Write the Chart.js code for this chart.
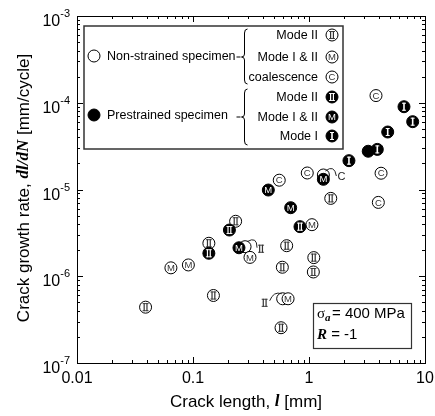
<!DOCTYPE html>
<html>
<head>
<meta charset="utf-8">
<script src="https://cdn.jsdelivr.net/npm/chart.js@4/dist/chart.umd.min.js"></script>
<style>
  html, body { margin: 0; padding: 0; background: #fff; }
  canvas { display: block; }
</style>
</head>
<body>
<canvas id="crackChart" width="435" height="416"></canvas>
<script>
// crack length l [mm] , crack growth rate dl/dN [mm/cycle]
const openModeII = [[0.039, 4.4e-7], [0.137, 2.4e-6], [0.15, 6.0e-7], [0.233, 4.3e-6], [0.642, 2.25e-6],
  [0.589, 1.27e-6], [1.1, 1.64e-6], [1.09, 1.12e-6], [0.574, 2.55e-7], [1.54, 7.9e-6]];
const openModeIINoted = [[0.281, 2.19e-6], [0.593, 5.5e-7]];   // hidden under other marks, labelled with an arrow
const openModeMixed = [[0.0645, 1.25e-6], [0.0912, 1.35e-6], [0.31, 1.65e-6], [1.06, 3.93e-6], [0.66, 5.5e-7]];
const openCoalescence = [[0.554, 1.28e-5], [0.966, 1.55e-5], [3.78, 1.21e-4], [4.18, 1.54e-5], [3.96, 7.1e-6]];
const openCoalescenceNoted = [[1.33, 1.47e-5]];
const preModeII = [[0.137, 1.84e-6], [0.206, 3.41e-6], [0.836, 3.73e-6]];
const preModeMixed = [[0.446, 9.86e-6], [0.695, 6.17e-6], [0.249, 2.13e-6], [1.33, 1.31e-5]];
const prePlain = [[3.24, 2.76e-5]];
const preModeI = [[2.21, 2.15e-5], [3.88, 2.9e-5], [4.77, 4.6e-5], [6.59, 9.0e-5], [7.83, 6.05e-5]];

const xTickValues = [0.01, 0.1, 1, 10];
const xTickLabels = ['0.01', '0.1', '1', '10'];
const yTickExps = [-7, -6, -5, -4, -3];

const SANS = '"Liberation Sans", Arial, sans-serif';
const SERIF = '"Liberation Serif", "Times New Roman", serif';

function pts(arr) {
  return arr.map(p => ({ x: p[0], y: p[1] }));
}

function layer(arr, filled, glyph, order) {
  return {
    data: pts(arr),
    glyph: glyph,
    filled: filled,
    order: order,
    showLine: false,
    pointRadius: 6,
    pointHoverRadius: 6,
    pointBackgroundColor: filled ? '#000' : '#fff',
    pointBorderColor: '#000',
    pointBorderWidth: 1
  };
}

// letters inside the circles
function drawGlyph(ctx, x, y, glyph, color) {
  ctx.save();
  ctx.fillStyle = color;
  if (glyph === 'II') {
    ctx.fillRect(x - 3, y - 4, 6, 0.9);
    ctx.fillRect(x - 3, y + 3.1, 6, 0.9);
    ctx.fillRect(x - 2, y - 4, 1.2, 8);
    ctx.fillRect(x + 0.8, y - 4, 1.2, 8);
  } else if (glyph === 'I') {
    ctx.fillRect(x - 2, y - 4, 4, 1);
    ctx.fillRect(x - 2, y + 3, 4, 1);
    ctx.fillRect(x - 0.8, y - 4, 1.6, 8);
  } else if (glyph) {
    ctx.font = '9.5px ' + SANS;
    ctx.textAlign = 'center';
    ctx.textBaseline = 'middle';
    ctx.fillText(glyph, x, y + 0.5);
  }
  ctx.restore();
}

function drawSymbol(ctx, x, y, filled, glyph) {
  ctx.save();
  ctx.beginPath();
  ctx.arc(x, y, 6, 0, Math.PI * 2);
  ctx.fillStyle = filled ? '#000' : '#fff';
  ctx.fill();
  ctx.lineWidth = 1;
  ctx.strokeStyle = '#000';
  ctx.stroke();
  ctx.restore();
  drawGlyph(ctx, x, y, glyph, filled ? '#fff' : '#333');
}

// text made of several fonts, centred on cx
function drawRuns(ctx, runs, cx, cy) {
  let total = 0;
  runs.forEach(r => { ctx.font = r.f; r.w = ctx.measureText(r.t).width; total += r.w; });
  let x = cx - total / 2;
  ctx.textAlign = 'left';
  ctx.textBaseline = 'middle';
  runs.forEach(r => { ctx.font = r.f; ctx.fillText(r.t, x, cy); x += r.w; });
}

function drawBrace(ctx, x, y1, y2, ym) {
  ctx.beginPath();
  ctx.moveTo(x + 3, y1);
  ctx.quadraticCurveTo(x, y1, x, y1 + 4);
  ctx.lineTo(x, ym - 3);
  ctx.quadraticCurveTo(x, ym, x - 3, ym);
  ctx.quadraticCurveTo(x, ym, x, ym + 3);
  ctx.lineTo(x, y2 - 4);
  ctx.quadraticCurveTo(x, y2, x + 3, y2);
  ctx.stroke();
  ctx.beginPath();
  ctx.moveTo(x - 8, ym);
  ctx.lineTo(x - 4, ym);
  ctx.stroke();
}

const glyphPlugin = {
  id: 'glyphs',
  afterDatasetDraw(chart, args) {
    const ds = chart.data.datasets[args.index];
    if (!ds.glyph) return;
    args.meta.data.forEach(pt => drawGlyph(chart.ctx, pt.x, pt.y, ds.glyph, ds.filled ? '#fff' : '#333'));
  }
};

const framePlugin = {
  id: 'frame',
  afterDraw(chart) {
    const ctx = chart.ctx;
    const a = chart.chartArea;
    const xs = chart.scales.x, ys = chart.scales.y;
    ctx.save();
    ctx.strokeStyle = '#000';
    ctx.fillStyle = '#000';
    ctx.lineWidth = 1;
    ctx.strokeRect(a.left + 0.5, a.top + 0.5, a.right - a.left, a.bottom - a.top);

    // inward ticks on every side
    ctx.beginPath();
    for (let e = -2; e <= 0; e++) {
      for (let m = 1; m <= 10; m++) {
        const px = Math.round(xs.getPixelForValue(m * Math.pow(10, e))) + 0.5;
        const len = (m === 1 || m === 10) ? 6 : 3;
        ctx.moveTo(px, a.bottom); ctx.lineTo(px, a.bottom - len);
        ctx.moveTo(px, a.top); ctx.lineTo(px, a.top + len);
      }
    }
    for (let e = -7; e <= -4; e++) {
      for (let m = 1; m <= 10; m++) {
        const py = Math.round(ys.getPixelForValue(m * Math.pow(10, e))) + 0.5;
        const len = (m === 1 || m === 10) ? 6 : 3;
        ctx.moveTo(a.left, py); ctx.lineTo(a.left + len, py);
        ctx.moveTo(a.right, py); ctx.lineTo(a.right - len, py);
      }
    }
    ctx.stroke();

    // tick labels
    ctx.font = '16px ' + SANS;
    ctx.textAlign = 'center';
    ctx.textBaseline = 'alphabetic';
    xTickValues.forEach((v, i) => ctx.fillText(xTickLabels[i], xs.getPixelForValue(v), a.bottom + 20));
    yTickExps.forEach(e => {
      const py = ys.getPixelForValue(Math.pow(10, e));
      ctx.font = '11px ' + SANS;
      const sup = String(e);
      const sw = ctx.measureText(sup).width;
      ctx.textAlign = 'left';
      ctx.fillText(sup, 70 - sw, py + 1);
      ctx.font = '16px ' + SANS;
      ctx.textAlign = 'right';
      ctx.fillText('10', 70 - sw, py + 10);
    });

    // axis titles
    drawRuns(ctx, [
      { t: 'Crack length, ', f: '17px ' + SANS },
      { t: 'l', f: 'italic bold 17px ' + SERIF },
      { t: ' [mm]', f: '17px ' + SANS }
    ], 246, 402);
    ctx.save();
    ctx.translate(24, 188);
    ctx.rotate(-Math.PI / 2);
    drawRuns(ctx, [
      { t: 'Crack growth rate, ', f: '17px ' + SANS },
      { t: 'dl/dN', f: 'italic bold 17px ' + SERIF },
      { t: ' [mm/cycle]', f: '17px ' + SANS }
    ], 0, 0);
    ctx.restore();

    // legend box
    ctx.fillStyle = '#fff';
    ctx.fillRect(84, 26, 259, 123);
    ctx.strokeStyle = '#333';
    ctx.lineWidth = 1.5;
    ctx.strokeRect(84, 26, 259, 123);
    ctx.lineWidth = 1;
    drawSymbol(ctx, 94, 56, false, null);
    drawSymbol(ctx, 94, 115, true, null);
    ctx.fillStyle = '#000';
    ctx.font = '12.5px ' + SANS;
    ctx.textAlign = 'left';
    ctx.textBaseline = 'middle';
    ctx.fillText('Non-strained specimen', 107, 57);
    ctx.fillText('Prestrained specimen', 107, 116);
    ctx.strokeStyle = '#000';
    drawBrace(ctx, 244.5, 29, 84, 57);
    drawBrace(ctx, 244.5, 89, 145, 117);
    const rows = [
      ['Mode II', 35, false, 'II'], ['Mode I & II', 57, false, 'M'], ['coalescence', 77, false, 'C'],
      ['Mode II', 97, true, 'II'], ['Mode I & II', 117, true, 'M'], ['Mode I', 136, true, 'I']
    ];
    rows.forEach(r => {
      ctx.fillStyle = '#000';
      ctx.font = '12.5px ' + SANS;
      ctx.textAlign = 'right';
      ctx.textBaseline = 'middle';
      ctx.fillText(r[0], 318, r[1] + 1);
      drawSymbol(ctx, 332, r[1], r[2], r[3]);
    });

    // stress box
    ctx.fillStyle = '#fff';
    ctx.fillRect(313, 303, 98, 45);
    ctx.strokeStyle = '#333';
    ctx.lineWidth = 1.2;
    ctx.strokeRect(313.5, 303.5, 98, 45);
    ctx.fillStyle = '#000';
    ctx.textAlign = 'left';
    ctx.textBaseline = 'alphabetic';
    ctx.font = '15px ' + SERIF;
    ctx.fillText('\u03c3', 317, 318);
    ctx.font = 'italic bold 11px ' + SERIF;
    ctx.fillText('a', 325, 321);
    ctx.font = '15px ' + SANS;
    ctx.fillText('= 400 MPa', 332, 318);
    ctx.font = 'italic bold 15px ' + SERIF;
    ctx.fillText('R', 317, 339);
    ctx.font = '15px ' + SANS;
    ctx.fillText(' = -1', 327, 339);
    ctx.restore();
  }
};

// arcs that point to hidden marks
const notePlugin = {
  id: 'notes',
  afterDatasetsDraw(chart) {
    const ctx = chart.ctx;
    const xs = chart.scales.x, ys = chart.scales.y;
    ctx.save();
    ctx.strokeStyle = '#222';
    ctx.lineWidth = 1;
    let px = xs.getPixelForValue(openModeIINoted[0][0]);
    let py = ys.getPixelForValue(openModeIINoted[0][1]);
    ctx.beginPath();
    ctx.moveTo(px + 2, py - 5);
    ctx.quadraticCurveTo(px + 12, py - 11, px + 12, py + 1);
    ctx.stroke();
    drawGlyph(ctx, px + 16, py + 2, 'II', '#333');

    px = xs.getPixelForValue(openModeIINoted[1][0]);
    py = ys.getPixelForValue(openModeIINoted[1][1]);
    ctx.beginPath();
    ctx.moveTo(px - 13, py + 2);
    ctx.quadraticCurveTo(px - 9, py - 8, px - 1, py - 5);
    ctx.stroke();
    drawGlyph(ctx, px - 18, py + 4, 'II', '#333');

    px = xs.getPixelForValue(openCoalescenceNoted[0][0]);
    py = ys.getPixelForValue(openCoalescenceNoted[0][1]);
    ctx.beginPath();
    ctx.moveTo(px + 2, py - 4);
    ctx.quadraticCurveTo(px + 11, py - 11, px + 13, py + 1);
    ctx.stroke();
    ctx.fillStyle = '#222';
    ctx.font = '11px ' + SANS;
    ctx.textAlign = 'center';
    ctx.textBaseline = 'middle';
    ctx.fillText('C', px + 18, py + 2);
    ctx.restore();
  }
};

const ctx = document.getElementById('crackChart').getContext('2d');
new Chart(ctx, {
  type: 'scatter',
  data: {
    datasets: [
      layer(openModeIINoted, false, null, 9),
      layer(openCoalescenceNoted, false, null, 8),
      layer(openModeII, false, 'II', 7),
      layer(openCoalescence, false, 'C', 6),
      layer(openModeMixed, false, 'M', 5),
      layer(prePlain, true, null, 4),
      layer(preModeII, true, 'II', 3),
      layer(preModeMixed, true, 'M', 2),
      layer(preModeI, true, 'I', 1)
    ]
  },
  options: {
    responsive: false,
    animation: false,
    layout: { padding: { left: 77, top: 16, right: 10, bottom: 53 } },
    plugins: { legend: { display: false }, tooltip: { enabled: false } },
    scales: {
      x: {
        type: 'logarithmic', min: 0.01, max: 10,
        ticks: { display: false }, grid: { display: false }, border: { display: false },
        afterFit: s => { s.height = 0; }
      },
      y: {
        type: 'logarithmic', min: 1e-7, max: 1e-3,
        ticks: { display: false }, grid: { display: false }, border: { display: false },
        afterFit: s => { s.width = 0; }
      }
    }
  },
  plugins: [glyphPlugin, notePlugin, framePlugin]
});
</script>
</body>
</html>
